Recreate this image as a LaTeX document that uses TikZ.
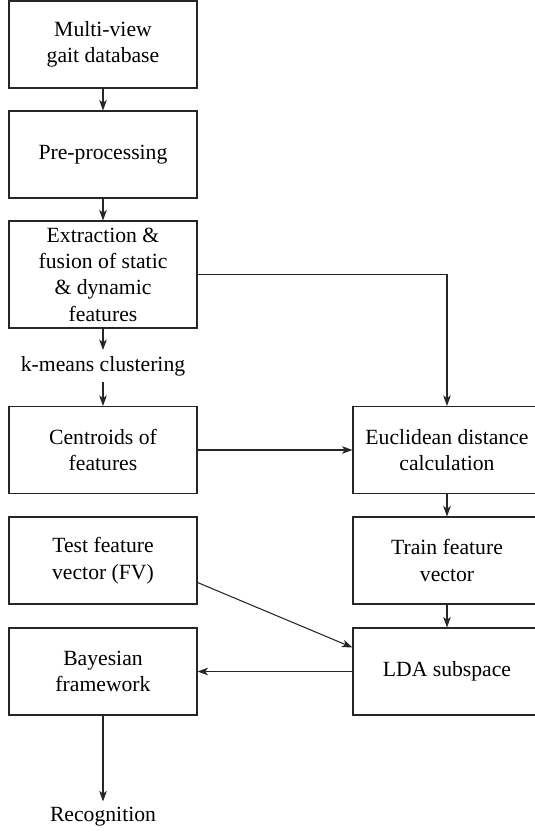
\documentclass[tikz,border=0pt]{standalone}
\usepackage{fontspec}
\setmainfont{Liberation Serif}
\newfontfamily\diagfont{Liberation Serif}
\usepackage{tikz}
\usetikzlibrary{positioning,calc,arrows.meta}

\begin{document}
\begin{tikzpicture}[x=0.03cm, y=-0.03cm]
				\tikzset{
					block/.style={rectangle, draw=black!85, line width=0.9pt, minimum width=5.64cm, minimum height=2.61cm, align=center, inner sep=2pt, font=\diagfont\fontsize{18.5}{22.5}\selectfont},
					tall/.style={minimum height=3.21cm},
					label/.style={inner sep=5pt, font=\diagfont\fontsize{18.5}{22.5}\selectfont},
					link/.style={draw=black!85, line width=0.9pt, -{Stealth[length=9pt, width=6.5pt, inset=2.5pt]}}
				}
				\useasboundingbox (0,0) rectangle (535,832);
				\clip (0,0) rectangle (535,832);
				
				% ---- Left column ----
				\node[block] (db) at (103,44.5) {Multi-view\\gait database};
				\node[block] (pre) at (103,154.5) {Pre-processing};
				\node[block, tall] (ext) at (103,274.5) {Extraction \&\\fusion of static\\\& dynamic\\features};
				\node[label] (km) at (103,366) {k-means clustering};
				\node[block] (cen) at (103,450) {Centroids of\\features};
				\node[block] (test) at (103,560.5) {Test feature\\vector (FV)};
				\node[block] (bay) at (103,671.5) {Bayesian\\framework};
				\node[label] (rec) at (103,817) {Recognition};
				
				% ---- Right column ----
				\node[block] (euc) at (447,450) {Euclidean distance\\calculation};
				\node[block] (train) at (447,560.5) {Train feature\\vector};
				\node[block] (lda) at (447,671.5) {LDA subspace};
				
				\draw[link] (db) -- (pre);
				\draw[link] (pre) -- (ext);
				\draw[link] (ext) -- (km);
				\draw[link] (km) -- (cen);
				\draw[link] (ext.east) -| (euc.north);
				\draw[link] (cen) -- (euc);
				\draw[link] (euc) -- (train);
				\draw[link] (train) -- (lda);
				\draw[link] ($(test.east)+(0,22)$) -- ($(lda.west)+(0,-24)$);
				\draw[link] (lda) -- (bay);
				\draw[link] (bay) -- (rec);
			\end{tikzpicture}
\end{document}
